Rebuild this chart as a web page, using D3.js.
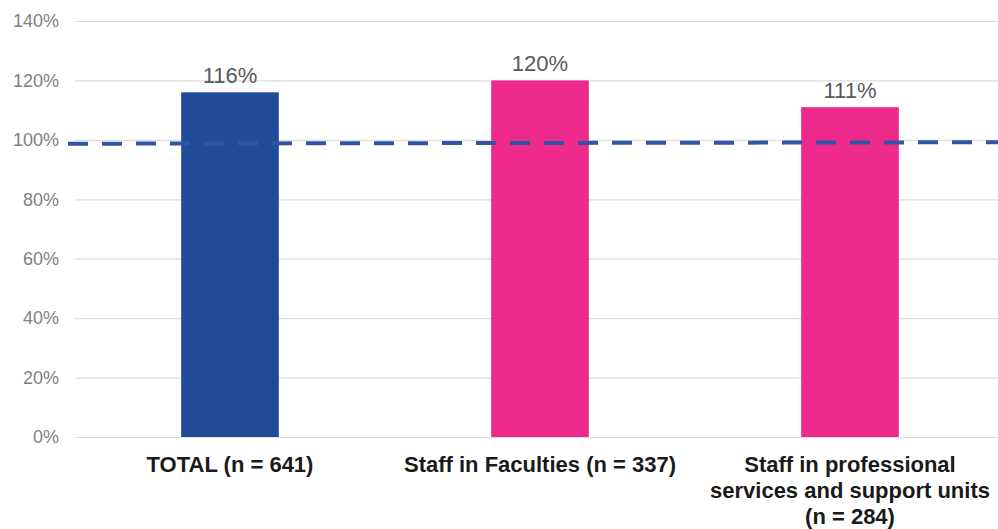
<!DOCTYPE html>
<html>
<head>
<meta charset="utf-8">
<script src="https://cdn.jsdelivr.net/npm/d3@7"></script>
<style>
  html, body { margin: 0; padding: 0; background: #ffffff; }
  svg { display: block; font-family: "Liberation Sans", Arial, sans-serif; }
</style>
</head>
<body>
<svg id="chart" width="998" height="529"></svg>
<script>
// Categories (each label split into its display lines), values in percent
const categories = ["TOTAL (n = 641)", "Staff in Faculties (n = 337)", "Staff in professional services and support units (n = 284)"];
const categoryLines = [
  ["TOTAL (n = 641)"],
  ["Staff in Faculties (n = 337)"],
  ["Staff in professional", "services and support units", "(n = 284)"]
];
const values = [116, 120, 111];
const barColors = ["#1f4b99", "#ee2a8c", "#ee2a8c"];
const yTicks = [0, 20, 40, 60, 80, 100, 120, 140];
// Dashed reference line: value at its left end and at its right end
const referenceLine = [98.7, 99.2];

const svg = d3.select("#chart");

const x = d3.scaleBand()
  .domain(categories)
  .range([75, 1005])
  .paddingInner(0.685)
  .paddingOuter(0.3425);

const y = d3.scaleLinear()
  .domain([0, 140])
  .range([437, 21]);

// Horizontal gridlines and tick labels
const yAxis = d3.axisLeft(y)
  .tickValues(yTicks)
  .tickSize(-(998 - 75))
  .tickPadding(16)
  .tickFormat(d => d + "%");

const gy = svg.append("g")
  .attr("transform", "translate(75,0)")
  .call(yAxis);
gy.select(".domain").remove();
gy.selectAll(".tick line")
  .attr("stroke", "#dedede")
  .attr("stroke-width", 1.2);
gy.selectAll(".tick text")
  .attr("fill", "#7f7f7f")
  .attr("font-size", 18)
  .attr("font-family", "Liberation Sans, Arial, sans-serif");

// Bars
svg.append("g")
  .selectAll("rect")
  .data(values)
  .join("rect")
  .attr("x", (d, i) => x(categories[i]))
  .attr("y", d => y(d))
  .attr("width", x.bandwidth())
  .attr("height", d => y(0) - y(d))
  .attr("fill", (d, i) => barColors[i]);

// Value labels above bars
svg.append("g")
  .selectAll("text")
  .data(values)
  .join("text")
  .attr("x", (d, i) => x(categories[i]) + x.bandwidth() / 2)
  .attr("y", d => y(d) - 9)
  .attr("text-anchor", "middle")
  .attr("fill", "#595959")
  .attr("font-size", 22)
  .text(d => d + "%");

// Dashed reference line across the plot
const xRef = d3.scaleLinear().domain([0, 1]).range([68, 998]);
const refLine = d3.line()
  .x((d, i) => xRef(i))
  .y(d => y(d));
svg.append("path")
  .datum(referenceLine)
  .attr("d", refLine)
  .attr("fill", "none")
  .attr("stroke", "#2f55a4")
  .attr("stroke-width", 4)
  .attr("stroke-dasharray", "20,14");

// Category labels below the axis
const labels = svg.append("g")
  .selectAll("text")
  .data(categoryLines)
  .join("text")
  .attr("x", (d, i) => x(categories[i]) + x.bandwidth() / 2)
  .attr("y", 472)
  .attr("text-anchor", "middle")
  .attr("fill", "#1a1a1a")
  .attr("font-size", 22)
  .attr("font-weight", "bold");
labels.selectAll("tspan")
  .data(d => d)
  .join("tspan")
  .attr("x", function () { return d3.select(this.parentNode).attr("x"); })
  .attr("dy", (d, i) => i === 0 ? 0 : 26)
  .text(d => d);
</script>
</body>
</html>
